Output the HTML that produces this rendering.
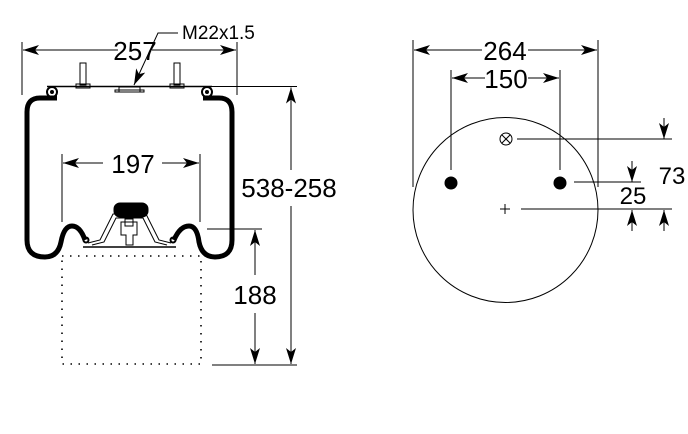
<!DOCTYPE html>
<html><head><style>body{margin:0;background:#fff}svg{display:block}text{font-family:"Liberation Sans",sans-serif;fill:#000}</style></head>
<body>
<svg width="688" height="434" viewBox="0 0 688 434" xmlns="http://www.w3.org/2000/svg">
<defs>
<marker id="a" viewBox="0 0 16 10" refX="16" refY="5" markerWidth="16" markerHeight="10" orient="auto" markerUnits="userSpaceOnUse"><path d="M0,0 L16,5 L0,10 L4,5 Z" fill="#000"/></marker>
</defs>
<g stroke="#000" fill="none" stroke-width="1">
<line x1="22" y1="42" x2="22" y2="95"/><line x1="237" y1="42" x2="237" y2="95"/>
<line x1="118" y1="50" x2="23" y2="50" marker-end="url(#a)"/>
<line x1="152" y1="50" x2="236" y2="50" marker-end="url(#a)"/>
<polyline points="178,33 158,33 134,85" marker-end="url(#a)"/>
<line x1="47" y1="86.5" x2="212" y2="86.5" stroke-width="1.5"/>
<circle cx="52" cy="92" r="5" stroke-width="2"/><circle cx="52" cy="92" r="1.5" fill="#000"/>
<circle cx="207" cy="92" r="5" stroke-width="2"/><circle cx="207" cy="92" r="1.5" fill="#000"/>
<rect x="80" y="63" width="6" height="22"/><rect x="76" y="84" width="14" height="4"/>
<rect x="174" y="63" width="6" height="22"/><rect x="170" y="84" width="14" height="4"/>
<rect x="119" y="87" width="21" height="5"/><rect x="115" y="90" width="29" height="2"/>
<path d="M57,98 L40,98 Q27,98 27,112 L27,240 Q27,257 45,257 Q58,257 61,242 Q64,226 72,226 Q80,226 85,240 M174,240 Q180,226 189,226 Q197,226 199,242 Q202,257 215,257 Q232,257 232,240 L232,112 Q232,98 219,98 L203,98" stroke-width="5"/>
<circle cx="86" cy="240" r="2.5" stroke-width="2"/><circle cx="173" cy="240" r="2.5" stroke-width="2"/>
<line x1="83" y1="247" x2="176" y2="247" stroke-width="1.5"/>
<path d="M88,243 L100,240 L113,214 L146,214 L159,240 L171,243"/>
<path d="M92,245 L104,242 L116,218 L143,218 L155,242 L167,245"/>
<rect x="114" y="203" width="34" height="14" rx="6" fill="#000"/>
<path d="M121,222 L121,235 L126,235 L126,245 L133,245 L133,235 L137,235 L137,222 Z"/>
<rect x="125" y="219" width="8" height="7"/>
<rect x="62" y="256" width="139" height="108" stroke-dasharray="1.5,6.5" stroke-width="1.6"/>
<line x1="62" y1="154" x2="62" y2="222"/><line x1="200" y1="154" x2="200" y2="222"/>
<line x1="103" y1="163" x2="63" y2="163" marker-end="url(#a)"/>
<line x1="162" y1="163" x2="199" y2="163" marker-end="url(#a)"/>
<line x1="212" y1="86.5" x2="297" y2="86.5"/>
<line x1="207" y1="229" x2="262" y2="229"/>
<line x1="212" y1="365" x2="297" y2="365"/>
<line x1="291" y1="170" x2="291" y2="87.5" marker-end="url(#a)"/>
<line x1="291" y1="206" x2="291" y2="364" marker-end="url(#a)"/>
<line x1="255" y1="275" x2="255" y2="230" marker-end="url(#a)"/>
<line x1="255" y1="313" x2="255" y2="364" marker-end="url(#a)"/>
<circle cx="505.5" cy="210" r="92.5"/>
<line x1="413" y1="40" x2="413" y2="187"/><line x1="598" y1="40" x2="598" y2="187"/>
<line x1="482" y1="50" x2="414" y2="50" marker-end="url(#a)"/>
<line x1="528" y1="50" x2="597" y2="50" marker-end="url(#a)"/>
<line x1="451" y1="70" x2="451" y2="170"/><line x1="560" y1="70" x2="560" y2="170"/>
<line x1="485" y1="78" x2="452" y2="78" marker-end="url(#a)"/>
<line x1="528" y1="78" x2="559" y2="78" marker-end="url(#a)"/>
<circle cx="451" cy="183" r="6" fill="#000"/><circle cx="560" cy="183" r="6" fill="#000"/>
<circle cx="506" cy="139" r="6"/><line x1="502" y1="135" x2="510" y2="143"/><line x1="510" y1="135" x2="502" y2="143"/>
<line x1="500" y1="209" x2="510" y2="209"/><line x1="505" y1="204" x2="505" y2="214"/>
<line x1="517" y1="139" x2="672" y2="139"/>
<line x1="574" y1="182" x2="641" y2="182"/>
<line x1="521" y1="209" x2="672" y2="209"/>
<line x1="664" y1="118" x2="664" y2="139" marker-end="url(#a)"/>
<line x1="632" y1="161" x2="632" y2="182" marker-end="url(#a)"/>
<line x1="632" y1="231" x2="632" y2="210" marker-end="url(#a)"/>
<line x1="664" y1="231" x2="664" y2="210" marker-end="url(#a)"/>
</g>
<text x="182" y="39" font-size="19">M22x1.5</text>
<text x="135" y="60" font-size="26" text-anchor="middle">257</text>
<text x="133" y="173" font-size="26" text-anchor="middle">197</text>
<text x="289" y="197" font-size="26" text-anchor="middle">538-258</text>
<text x="255" y="304" font-size="26" text-anchor="middle">188</text>
<text x="505" y="60" font-size="26" text-anchor="middle">264</text>
<text x="506" y="88" font-size="26" text-anchor="middle">150</text>
<text x="672" y="184" font-size="24" text-anchor="middle">73</text>
<text x="633" y="204" font-size="24" text-anchor="middle">25</text>
</svg>
</body></html>
